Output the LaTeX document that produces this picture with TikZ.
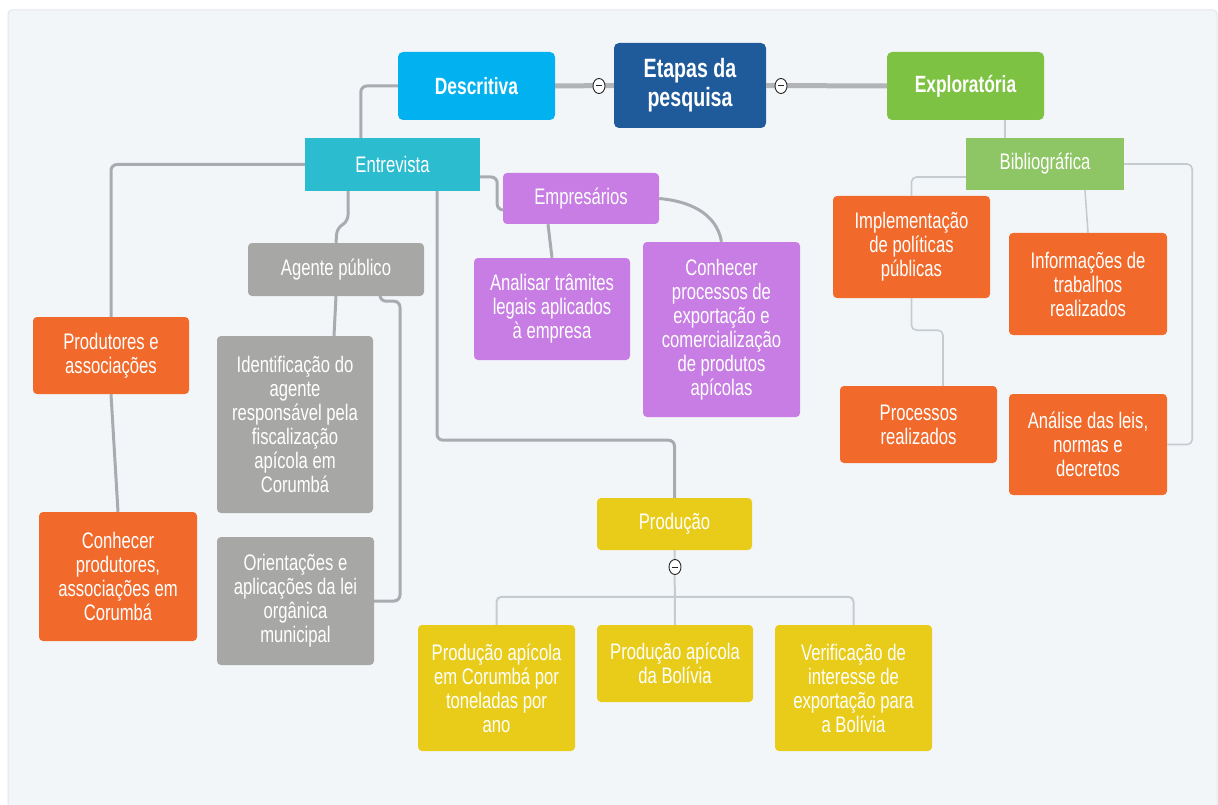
\documentclass[tikz,border=0pt]{standalone}
\usepackage{fontspec}
\setmainfont{Liberation Sans}[FakeStretch=0.74]
\usetikzlibrary{calc,shapes.geometric}
\definecolor{cBg}{HTML}{F3F6F9}
\definecolor{cEdge}{HTML}{E3E7EB}
\definecolor{cEtapas}{HTML}{1F5B9B}
\definecolor{cDescr}{HTML}{02B2F0}
\definecolor{cExpl}{HTML}{7DC242}
\definecolor{cEntrev}{HTML}{2BBDCF}
\definecolor{cBiblio}{HTML}{8EC565}
\definecolor{cPurple}{HTML}{C77DE3}
\definecolor{cGrey}{HTML}{A7A8A5}
\definecolor{cOrange}{HTML}{F16A2B}
\definecolor{cYellow}{HTML}{E9CC19}
\definecolor{cConnDark}{HTML}{A8ACB1}
\definecolor{cConnMain}{HTML}{B2B4B7}
\definecolor{cConnLight}{HTML}{C6CBD0}
\tikzset{
  box/.style={rounded corners=4pt, inner sep=0pt, align=center, text=white,
    font=\fontsize{22.5}{24}\selectfont},
  sqbox/.style={box, rounded corners=0pt},
  titlebox/.style={box, rounded corners=5pt, font=\bfseries\fontsize{23.5}{27}\selectfont},
  conn/.style={draw=cConnDark, line width=3pt, rounded corners=6pt},
  connmain/.style={draw=cConnMain, line width=5pt},
  connthin/.style={draw=cConnLight, line width=1.6pt, rounded corners=5pt},
  minusmark/.style={ellipse, draw=black!85, fill=white, line width=0.9pt,
    minimum width=12pt, minimum height=15pt, inner sep=0pt,
    path picture={\draw[line width=1pt] ([xshift=-3pt]path picture bounding box.center) -- ([xshift=3pt]path picture bounding box.center);}}
}
\begin{document}
\begin{tikzpicture}[x=1pt,y=-1pt]
\useasboundingbox (0,0) rectangle (1218,805);
\fill[white] (0,0) rectangle (1218,805);
\filldraw[fill=cBg, draw=cEdge, line width=1pt, rounded corners=4pt] (8,10) rectangle (1217,815);

% top level
\node[titlebox, fill=cEtapas, minimum width=152pt, minimum height=85pt, font=\bfseries\fontsize{26.5}{29}\selectfont] (etapas) at (690,85.5) {Etapas da\\pesquisa};
\node[titlebox, fill=cDescr, minimum width=157pt, minimum height=68pt] (descr) at (476.5,86) {Descritiva};
\node[titlebox, fill=cExpl, minimum width=157pt, minimum height=68pt] (explor) at (965.5,86) {Exploratória};

% left branch
\node[sqbox, fill=cEntrev, minimum width=175pt, minimum height=53pt] (entrev) at (392.5,164.5) {Entrevista};
\node[box, fill=cPurple, minimum width=156pt, minimum height=51pt] (empres) at (581,198.5) {Empresários};
\node[box, fill=cGrey, minimum width=176pt, minimum height=53pt] (agente) at (336,269.5) {Agente público};
\node[box, fill=cOrange, minimum width=156pt, minimum height=77pt] (prod) at (111,355.5) {Produtores e\\associações};
\node[box, fill=cOrange, minimum width=158pt, minimum height=129pt] (conhprod) at (118,576.5) {Conhecer\\produtores,\\associações em\\Corumbá};
\node[box, fill=cGrey, minimum width=156pt, minimum height=177pt] (ident) at (295,424.5) {Identificação do\\agente\\responsável pela\\fiscalização\\apícola em\\Corumbá};
\node[box, fill=cGrey, minimum width=157pt, minimum height=128pt] (orient) at (295.5,601) {Orientações e\\aplicações da lei\\orgânica\\municipal};
\node[box, fill=cPurple, minimum width=156pt, minimum height=102pt] (analisar) at (552,309) {Analisar trâmites\\legais aplicados\\à empresa};
\node[box, fill=cPurple, minimum width=157pt, minimum height=175pt] (conhproc) at (721.5,329.5) {Conhecer\\processos de\\exportação e\\comercialização\\de produtos\\apícolas};
\node[box, fill=cYellow, minimum width=155pt, minimum height=52pt] (producao) at (674.5,524) {Produção};
\node[box, fill=cYellow, minimum width=157pt, minimum height=126pt] (yl1) at (496.5,688) {Produção apícola\\em Corumbá por\\toneladas por\\ano};
\node[box, fill=cYellow, minimum width=156pt, minimum height=77pt] (yl2) at (675,663.5) {Produção apícola\\da Bolívia};
\node[box, fill=cYellow, minimum width=157pt, minimum height=126pt] (yl3) at (853.5,688) {Verificação de\\interesse de\\exportação para\\a Bolívia};

% right branch
\node[sqbox, fill=cBiblio, minimum width=158pt, minimum height=52pt] (biblio) at (1045,164) {Bibliográfica};
\node[box, fill=cOrange, minimum width=157pt, minimum height=102pt] (impl) at (911.5,247) {Implementação\\de políticas\\públicas};
\node[box, fill=cOrange, minimum width=158pt, minimum height=102pt] (inform) at (1088,284) {Informações de\\trabalhos\\realizados};
\node[box, fill=cOrange, minimum width=157pt, minimum height=77pt] (proc) at (918.5,424.5) {Processos\\realizados};
\node[box, fill=cOrange, minimum width=158pt, minimum height=101pt] (analise) at (1088,444.5) {Análise das leis,\\normas e\\decretos};

% connectors: root
\draw[connmain] (descr.east) -- (etapas.west);
\draw[connmain] (etapas.east) -- (explor.west);

% connectors: left
\draw[conn] (descr.west) -| ([xshift=56pt]entrev.north west);
\draw[conn] (entrev.west) -| (prod.north);
\draw[conn] (prod.south) -- (conhprod.north);
\draw[conn] ([xshift=-44.5pt]entrev.south) -- ++(0,30) -- ++(-11,7) -- (agente.north);
\draw[conn] (agente.south) -- ([xshift=39pt]ident.north);
\draw[conn] ([xshift=44pt]agente.south) -- ++(0,5) -- ++(20,0) |- (orient.east);
\draw[conn] ([xshift=44.5pt]entrev.south) -- ++(0,249) -| (producao.north);
\draw[conn] ([yshift=-12.5pt]entrev.east) -- ++(17,0) |- ([yshift=-11.5pt]empres.west);
\draw[conn] ([xshift=-33pt]empres.south) -- (analisar.north);
\draw[conn] (empres.east) to[out=-5,in=100] (conhproc.north);
\draw[connthin, line width=2pt] (producao.south) -- (yl2.north);
\draw[connthin, line width=2pt] (yl1.north) -- ++(0,-28) -| (yl3.north);

% connectors: right
\draw[connthin] ([xshift=39.5pt]explor.south) -- ([xshift=-40pt]biblio.north);
\draw[connthin] ([yshift=-13pt]biblio.west) -| (impl.north);
\draw[connthin] ([xshift=40pt]biblio.south) -- (inform.north);
\draw[connthin] (impl.south) -- ++(0,32) -| ([xshift=24.5pt]proc.north);
\draw[connthin] (biblio.east) -- ++(68,0) |- (analise.east);

% collapse markers
\node[minusmark] (m1) at (599,86) {};
\node[minusmark] (m2) at (781,86) {};
\node[minusmark] (m3) at (675,567) {};
\end{tikzpicture}
\end{document}
